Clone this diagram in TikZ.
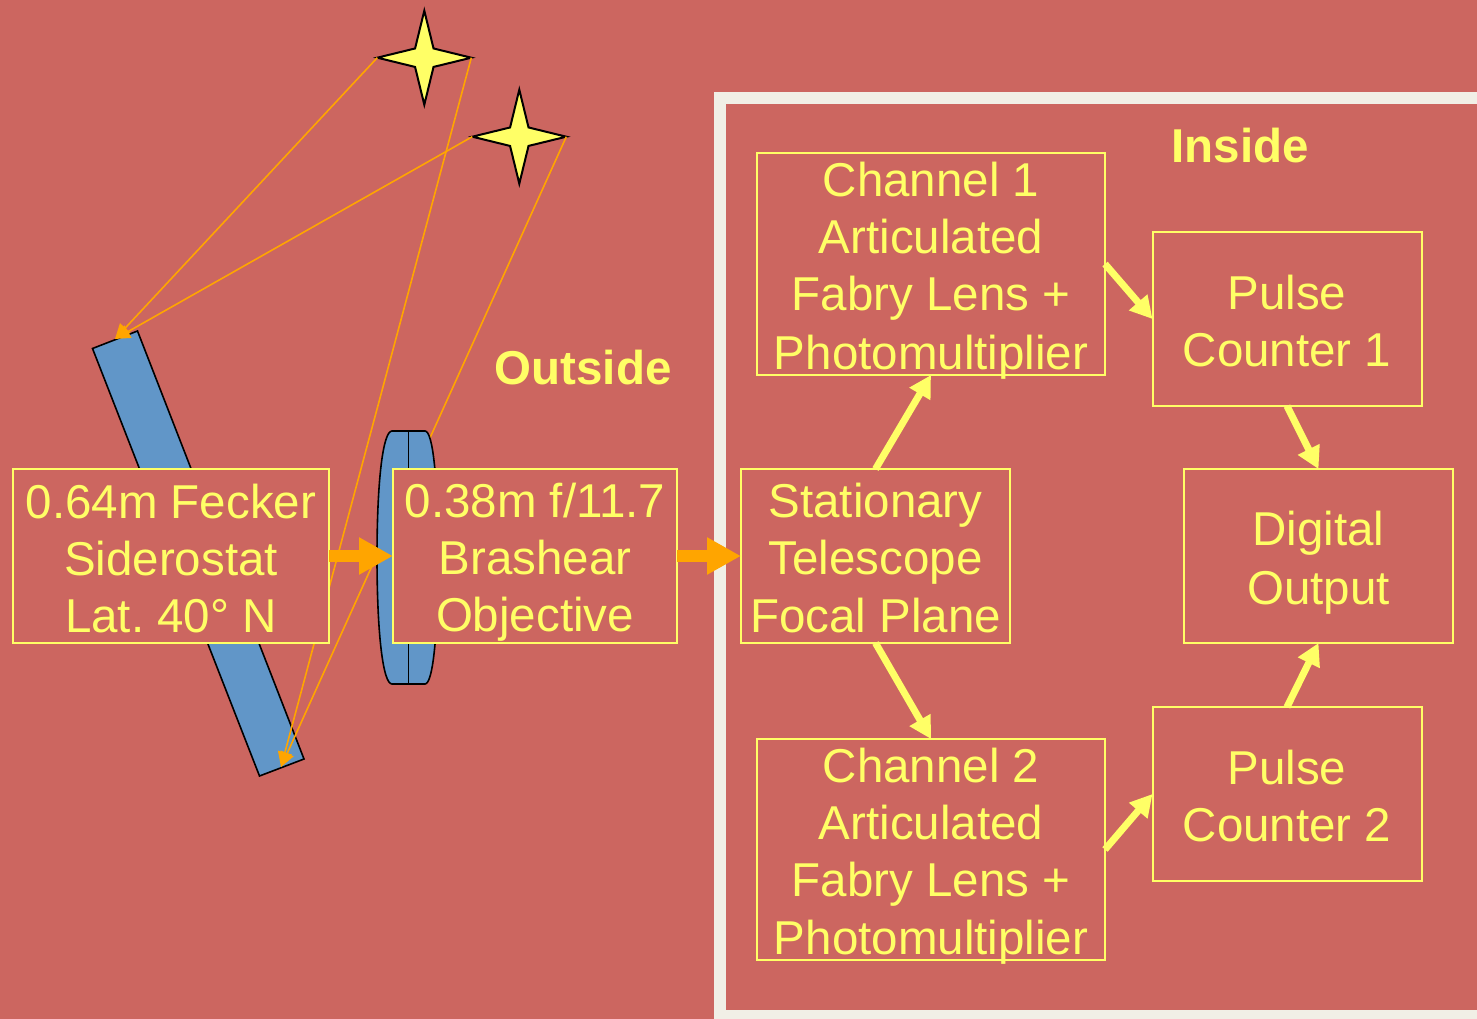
\documentclass[tikz,border=0pt]{standalone}
\usepackage{fontspec}
\setmainfont{Liberation Sans}
\usetikzlibrary{arrows.meta, positioning, shapes.geometric}
\definecolor{SlideRed}{HTML}{CC6660}
\definecolor{PaleYellow}{HTML}{FFFF66}
\definecolor{FrameCream}{HTML}{F1EFE6}
\definecolor{GlassBlue}{HTML}{6196C8}
\definecolor{RayOrange}{HTML}{FFA500}
\newcommand{\ls}{\vrule height47.5pt depth9.5pt width0pt\relax}

\begin{document}
\begin{tikzpicture}[x=1pt, y=-1pt, every node/.style={font=\fontsize{47.5}{57}\selectfont\frenchspacing, align=center, text=PaleYellow, outer sep=0pt, inner sep=0pt},
    textbox/.style={draw=PaleYellow, line width=2pt, fill=SlideRed},
    starshape/.style={star, star points=4, star point ratio=3.6, minimum size=94pt, draw=black, line width=2pt, fill=PaleYellow},
    glass/.style={draw=black, line width=1.6pt, fill=GlassBlue},
    ray/.style={-{Triangle[length=15pt, width=14pt]}, color=RayOrange, line width=1.6pt},
    bigarrow/.style={-{Triangle[length=34pt, width=35pt]}, color=RayOrange, line width=12pt},
    flowarrow/.style={-{Triangle[length=22pt, width=23pt]}, color=PaleYellow, line width=7pt}]
    \useasboundingbox (0,0) rectangle (1477,1019);
    \fill[SlideRed] (0,0) rectangle (1477,1019);
    \draw[FrameCream, line width=11.7pt] (720.2,98.2) rectangle (1500,1016);

    % Mirror and stars
    \draw[glass] (92.5,348.5) -- (137.5,331) -- (304,759) -- (259.5,776) -- cycle;
    \coordinate (mirrortop) at (115,339);
    \coordinate (mirrorbot) at (281,767);
    \node[starshape] (star1) at (424.3,57.7) {};
    \node[starshape] (star2) at (519.3,136.7) {};

    % Rays
    \draw[ray] (star1.outer point 2) -- (mirrortop);
    \draw[ray] (star2.outer point 2) -- (mirrortop);
    \draw[ray] (star1.outer point 4) -- (mirrorbot);
    \draw[ray] (star2.outer point 4) -- (mirrorbot);

    % Lens
    \draw[glass] (392,431) -- (425,431) .. controls (433,431) and (438,480) .. (438,557) .. controls (438,634) and (433,684) .. (425,684) -- (392,684) .. controls (383,684) and (377,634) .. (377,557) .. controls (377,480) and (383,431) .. (392,431) -- cycle;
    \draw[glass] (408.3,431) -- (408.3,684);

    \node[textbox, minimum width=316pt, minimum height=174pt] (siderostat) at (171,556) {\ls 0.64m Fecker\\Siderostat\\Lat. 40° N\ls};
    \node[textbox, minimum width=284pt, minimum height=174pt, right=64pt of siderostat] (objective) {\ls 0.38m f/11.7\\Brashear\\Objective\ls};
    \node[textbox, minimum width=269pt, minimum height=174pt, right=64pt of objective] (focal) {\ls Stationary\\Telescope\\Focal Plane\ls};
    \node[textbox, inner ysep=-5pt, minimum width=348pt, minimum height=222pt, above=94pt of focal, xshift=55.5pt] (chan1) {\ls Channel 1\\Articulated\\Fabry Lens +\\Photomultiplier\ls};
    \node[textbox, inner ysep=-5pt, minimum width=348pt, minimum height=221pt, below=96pt of focal, xshift=55.5pt] (chan2) {\ls Channel 2\\Articulated\\Fabry Lens +\\Photomultiplier\ls};
    \node[textbox, minimum width=269pt, minimum height=174pt, right=47.5pt of chan1, yshift=-55pt] (pulse1) {\ls Pulse\\Counter 1\ls};
    \node[textbox, minimum width=269pt, minimum height=174pt, right=47.5pt of chan2, yshift=55.5pt] (pulse2) {\ls Pulse\\Counter 2\ls};
    \node[textbox, minimum width=269pt, minimum height=174pt, right=174pt of focal] (digital) {\ls Digital\\Output\ls};

    \node[font=\fontsize{47.5}{57}\selectfont\bfseries] (outside) at (583,368) {Outside};
    \node[font=\fontsize{47.5}{57}\selectfont\bfseries] (inside) at (1240,146) {Inside};

    % Arrows
    \draw[bigarrow] (siderostat.east) -- (objective.west);
    \draw[bigarrow] (objective.east) -- (focal.west);
    \draw[flowarrow] (focal.north) -- (chan1.south);
    \draw[flowarrow] (focal.south) -- (chan2.north);
    \draw[flowarrow] (chan1.east) -- (pulse1.west);
    \draw[flowarrow] (chan2.east) -- (pulse2.west);
    \draw[flowarrow] (pulse1.south) -- (digital.north);
    \draw[flowarrow] (pulse2.north) -- (digital.south);
\end{tikzpicture}
\end{document}
